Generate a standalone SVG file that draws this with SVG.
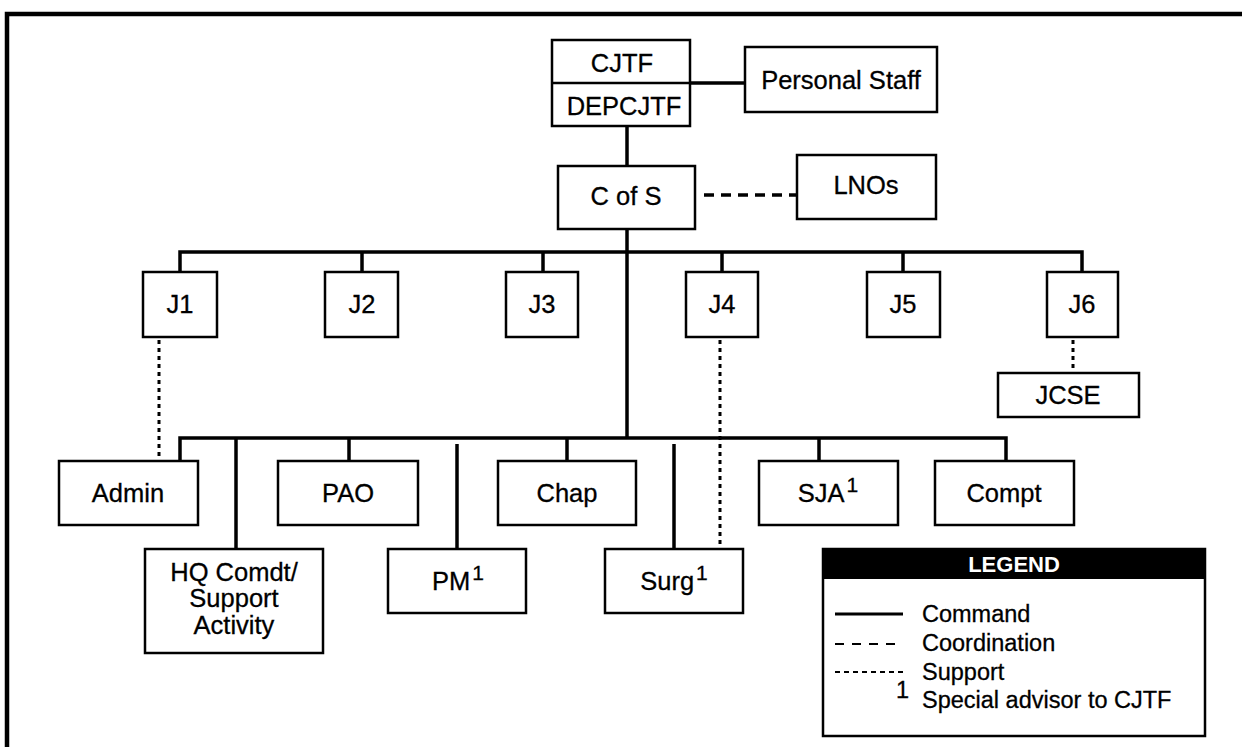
<svg xmlns="http://www.w3.org/2000/svg" width="1242" height="747" viewBox="0 0 1242 747">
<style>
  .box { fill: #fff; stroke: #000; stroke-width: 2.5; }
  .t { font-family: "Liberation Sans", Arial, Helvetica, sans-serif; font-size: 25.5px; fill: #000; stroke: #000; stroke-width: 0.3; text-anchor: middle; }
  .lt { font-family: "Liberation Sans", Arial, Helvetica, sans-serif; font-size: 23.5px; fill: #000; stroke: #000; stroke-width: 0.3; }
  .sup { font-size: 21px; }
  .cmd { stroke: #000; stroke-width: 3.5; fill: none; }
  .coord { stroke: #000; stroke-width: 3.5; fill: none; stroke-dasharray: 10 7; }
  .sup-line { stroke: #000; stroke-width: 3; fill: none; stroke-dasharray: 4 4; }
</style>
<rect width="1242" height="747" fill="#fff"/>
<path d="M7,747 V14 H1242" fill="none" stroke="#000" stroke-width="4.5"/>

<g id="connectors">
  <line class="cmd" x1="690" y1="83" x2="745" y2="83"/>
  <line class="cmd" x1="627" y1="126" x2="627" y2="166"/>
  <line class="cmd" x1="627" y1="229" x2="627" y2="438"/>
  <line class="coord" x1="704" y1="195" x2="797" y2="195"/>
  <path class="cmd" d="M180,272 V252 H1082 V272"/>
  <line class="cmd" x1="362" y1="252" x2="362" y2="272"/>
  <line class="cmd" x1="543" y1="252" x2="543" y2="272"/>
  <line class="cmd" x1="722" y1="252" x2="722" y2="272"/>
  <line class="cmd" x1="903" y1="252" x2="903" y2="272"/>
  <line class="sup-line" x1="159" y1="340" x2="159" y2="461"/>
  <line class="sup-line" x1="720" y1="340" x2="720" y2="549"/>
  <line class="sup-line" x1="1073" y1="340" x2="1073" y2="373"/>
  <path class="cmd" d="M180,461 V438 H1006 V461"/>
  <line class="cmd" x1="236" y1="438" x2="236" y2="549"/>
  <line class="cmd" x1="349" y1="438" x2="349" y2="461"/>
  <line class="cmd" x1="457" y1="444" x2="457" y2="549"/>
  <line class="cmd" x1="567" y1="438" x2="567" y2="461"/>
  <line class="cmd" x1="674" y1="444" x2="674" y2="549"/>
  <line class="cmd" x1="819" y1="438" x2="819" y2="461"/>
</g>

<g id="cjtf">
  <rect class="box" x="552" y="40" width="138" height="86"/>
  <line x1="552" y1="83" x2="690" y2="83" stroke="#000" stroke-width="2.5"/>
  <text class="t" x="622" y="72">CJTF</text>
  <text class="t" x="624" y="115">DEPCJTF</text>
</g>
<g id="personal-staff">
  <rect class="box" x="745" y="47" width="192" height="65"/>
  <text class="t" x="841" y="89">Personal Staff</text>
</g>
<g id="cofs">
  <rect class="box" x="558" y="166" width="137" height="63"/>
  <text class="t" x="626" y="205">C of S</text>
</g>
<g id="lnos">
  <rect class="box" x="797" y="155" width="139" height="64"/>
  <text class="t" x="866" y="194">LNOs</text>
</g>

<g id="j1"><rect class="box" x="143" y="272" width="74" height="65"/><text class="t" x="180" y="313">J1</text></g>
<g id="j2"><rect class="box" x="325" y="272" width="73" height="65"/><text class="t" x="362" y="313">J2</text></g>
<g id="j3"><rect class="box" x="506" y="272" width="72" height="65"/><text class="t" x="542" y="313">J3</text></g>
<g id="j4"><rect class="box" x="686" y="272" width="72" height="65"/><text class="t" x="722" y="313">J4</text></g>
<g id="j5"><rect class="box" x="867" y="272" width="73" height="65"/><text class="t" x="903" y="313">J5</text></g>
<g id="j6"><rect class="box" x="1047" y="272" width="71" height="65"/><text class="t" x="1082" y="313">J6</text></g>
<g id="jcse"><rect class="box" x="998" y="373" width="141" height="44"/><text class="t" x="1068" y="404">JCSE</text></g>

<g id="admin"><rect class="box" x="59" y="461" width="139" height="64"/><text class="t" x="128" y="502">Admin</text></g>
<g id="pao"><rect class="box" x="278" y="461" width="140" height="64"/><text class="t" x="348" y="502">PAO</text></g>
<g id="chap"><rect class="box" x="498" y="461" width="138" height="64"/><text class="t" x="567" y="502">Chap</text></g>
<g id="sja"><rect class="box" x="759" y="461" width="139" height="64"/><text class="t" x="828" y="502">SJA<tspan class="sup" dx="2" dy="-10">1</tspan></text></g>
<g id="compt"><rect class="box" x="935" y="461" width="139" height="64"/><text class="t" x="1004" y="502">Compt</text></g>

<g id="hq-comdt">
  <rect class="box" x="145" y="549" width="178" height="104"/>
  <text class="t" x="234" y="581">HQ Comdt/</text>
  <text class="t" x="234" y="607">Support</text>
  <text class="t" x="234" y="634">Activity</text>
</g>
<g id="pm"><rect class="box" x="388" y="549" width="138" height="64"/><text class="t" x="458" y="590">PM<tspan class="sup" dx="2" dy="-10">1</tspan></text></g>
<g id="surg"><rect class="box" x="605" y="549" width="138" height="64"/><text class="t" x="674" y="590">Surg<tspan class="sup" dx="2" dy="-10">1</tspan></text></g>

<g id="legend">
  <rect class="box" x="823" y="549" width="382" height="187"/>
  <rect x="823" y="549" width="382" height="30" fill="#000"/>
  <text x="1014" y="572" font-family="'Liberation Sans', Arial, Helvetica, sans-serif" font-size="22" font-weight="bold" fill="#fff" text-anchor="middle">LEGEND</text>
  <line x1="835" y1="614" x2="903" y2="614" stroke="#000" stroke-width="3"/>
  <line x1="835" y1="644" x2="903" y2="644" stroke="#000" stroke-width="2" stroke-dasharray="9 8"/>
  <line x1="835" y1="672" x2="903" y2="672" stroke="#000" stroke-width="2" stroke-dasharray="5 4"/>
  <text class="lt" x="922" y="622">Command</text>
  <text class="lt" x="922" y="651">Coordination</text>
  <text class="lt" x="922" y="680">Support</text>
  <text class="lt" x="909" y="698" font-size="19" text-anchor="end">1</text>
  <text class="lt" x="922" y="708">Special advisor to CJTF</text>
</g>
</svg>
